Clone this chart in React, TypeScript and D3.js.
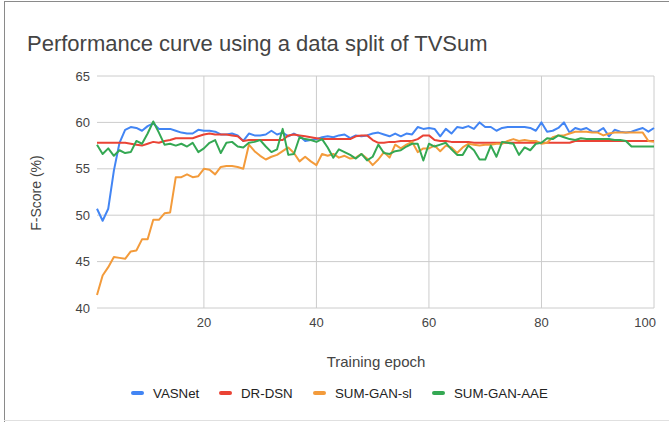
import React from "react";
import * as d3 from "d3";

const epochs: number[] = Array.from({ length: 100 }, (_, i) => i + 1);

const vasnet: number[] = [
  50.7, 49.4, 50.7, 54.8, 57.8, 59.2, 59.5, 59.4, 59.1, 59.6,
  59.9, 59.3, 59.3, 59.3, 59.1, 58.9, 58.8, 58.8, 59.2, 59.1,
  59.1, 59.0, 58.7, 58.7, 58.8, 58.6, 58.0, 58.8, 58.6, 58.6,
  58.7, 59.1, 58.7, 58.9, 58.5, 58.8, 58.5, 58.0, 58.1, 58.2,
  58.4, 58.5, 58.4, 58.6, 58.7, 58.3, 58.6, 58.5, 58.6, 58.8,
  58.9, 58.7, 58.5, 58.8, 58.5, 58.8, 58.7, 59.5, 59.3, 59.4,
  59.3, 58.5, 59.3, 58.8, 59.5, 59.4, 59.6, 59.3, 60.0, 59.5,
  59.5, 59.1, 59.4, 59.5, 59.5, 59.5, 59.5, 59.4, 59.1, 60.0,
  59.0, 59.1, 59.4, 60.0, 58.9, 59.4, 59.2, 59.4, 59.0, 59.0,
  59.4, 58.5, 59.2, 59.0, 58.9, 59.0, 59.2, 59.4, 59.0, 59.4,
];

const drdsn: number[] = [
  57.8, 57.8, 57.8, 57.8, 57.8, 57.8, 57.7, 57.6, 57.5, 57.7,
  57.9, 57.8, 58.0, 58.1, 58.3, 58.3, 58.3, 58.3, 58.5, 58.7,
  58.8, 58.7, 58.7, 58.7, 58.6, 58.5, 58.0, 58.1, 58.1, 58.1,
  58.1, 58.1, 58.1, 58.1, 58.6, 58.7, 58.6, 58.5, 58.4, 58.3,
  58.2, 58.2, 58.2, 58.2, 58.2, 58.2, 58.5, 58.6, 58.6, 58.1,
  57.8, 57.8, 57.9, 57.9, 58.0, 58.0, 58.0, 58.2, 58.6, 58.6,
  58.1, 58.0, 58.0, 57.9, 57.9, 57.9, 57.9, 57.8, 57.8, 57.8,
  57.8, 57.8, 57.8, 57.8, 57.8, 57.8, 57.8, 57.8, 57.8, 57.8,
  57.8, 57.8, 57.8, 57.8, 57.8, 58.0, 58.0, 58.0, 58.0, 58.0,
  58.0, 58.0, 58.0, 58.0, 58.0, 58.0, 58.0, 58.0, 58.0, 58.0,
];

const sumGanSl: number[] = [
  41.4, 43.5, 44.4, 45.5, 45.4, 45.3, 46.1, 46.2, 47.4, 47.4,
  49.5, 49.5, 50.2, 50.3, 54.1, 54.1, 54.4, 54.1, 54.2, 55.0,
  54.9, 54.4, 55.2, 55.3, 55.3, 55.2, 55.0, 57.6, 56.9, 56.4,
  56.0, 56.3, 56.5, 56.9, 57.3, 56.7, 55.8, 56.3, 55.8, 55.4,
  56.6, 56.4, 56.6, 56.2, 56.4, 56.1, 56.2, 56.6, 56.1, 55.4,
  56.0, 56.8, 56.2, 57.6, 57.2, 57.6, 57.9, 56.8, 57.2, 57.2,
  57.5, 56.9, 57.5, 57.3, 56.7, 57.3, 57.7, 57.6, 57.5, 57.6,
  57.6, 57.7, 57.7, 58.0, 58.2, 58.0, 58.1, 58.0, 58.0, 57.7,
  57.8, 58.4, 58.6, 58.6, 58.8, 59.0, 59.0, 59.0, 58.9, 58.9,
  58.6, 58.8, 58.9, 58.9, 58.9, 58.9, 58.9, 58.9, 58.0, 57.9,
];

const sumGanAae: number[] = [
  57.6, 56.6, 57.2, 56.4, 57.0, 56.7, 56.8, 58.0, 57.7, 58.8,
  60.1, 58.9, 57.6, 57.7, 57.5, 57.7, 57.4, 57.8, 56.8, 57.2,
  57.8, 58.1, 56.7, 57.8, 57.9, 57.4, 57.3, 57.8, 57.9, 58.1,
  57.4, 56.8, 57.1, 59.3, 56.5, 56.6, 58.4, 58.2, 58.1, 57.9,
  58.2, 57.3, 56.2, 57.1, 56.8, 56.5, 56.1, 56.6, 55.9, 56.3,
  57.6, 56.7, 56.6, 56.9, 57.0, 57.4, 57.7, 57.7, 55.9, 57.7,
  57.4, 57.6, 57.8, 57.1, 56.5, 56.5, 57.5, 57.0, 56.0, 56.0,
  57.5, 56.3, 57.9, 57.8, 57.7, 56.5, 57.3, 57.0, 57.7, 57.8,
  58.3, 58.2, 58.6, 58.4, 58.2, 58.1, 58.3, 58.2, 58.2, 58.2,
  58.2, 58.2, 58.1, 58.1, 58.0, 57.4, 57.4, 57.4, 57.4, 57.4,
];

const seriesNames: string[] = ["VASNet", "DR-DSN", "SUM-GAN-sl", "SUM-GAN-AAE"];
const seriesColors: string[] = ["#4285F4", "#EA4335", "#F39B3B", "#34A853"];
const seriesValues: number[][] = [vasnet, drdsn, sumGanSl, sumGanAae];

const xTicks: number[] = [20, 40, 60, 80, 100];
const yTicks: number[] = [40, 45, 50, 55, 60, 65];

const titleText = "Performance curve using a data split of TVSum";
const xTitle = "Training epoch";
const yTitle = "F-Score (%)";

const W = 669;
const H = 422;
const FONT = "Arial, 'Liberation Sans', sans-serif";

export default function App() {
  const x = d3.scaleLinear().domain([1, 100]).range([97, 654]);
  const y = d3.scaleLinear().domain([40, 65]).range([308, 76]);
  const line = d3
    .line<number>()
    .x((_, i) => x(epochs[i]))
    .y((d) => y(d));

  const legendX = [131, 219, 313, 432];

  return (
    <svg
      width={W}
      height={H}
      style={{ position: "absolute", left: 0, top: 0, background: "#fff" }}
      fontFamily={FONT}
    >
      <rect x={0} y={0} width={W} height={H} fill="#fff" />
      {/* frame */}
      <line x1={4} y1={1.5} x2={W} y2={1.5} stroke="#8a8a8a" strokeWidth={1} />
      <line x1={4.5} y1={1} x2={4.5} y2={H} stroke="#8a8a8a" strokeWidth={1} />
      <line x1={4} y1={420.5} x2={W} y2={420.5} stroke="#e0e0e0" strokeWidth={1} />

      <text x={27} y={51} fontSize={22} fill="#444">
        {titleText}
      </text>

      {/* grid */}
      {yTicks.map((t) => (
        <line key={"gy" + t} x1={97} x2={654} y1={y(t)} y2={y(t)} stroke="#cccccc" strokeWidth={1} />
      ))}
      {xTicks.map((t) => (
        <line key={"gx" + t} x1={x(t)} x2={x(t)} y1={76} y2={308} stroke="#cccccc" strokeWidth={1} />
      ))}

      {/* y tick labels */}
      {yTicks.map((t) => (
        <text key={"ly" + t} x={90} y={y(t) + 4.5} fontSize={13} fill="#444" textAnchor="end">
          {t}
        </text>
      ))}
      {/* x tick labels */}
      {xTicks.map((t, i) => {
        const last = i === xTicks.length - 1;
        return (
          <text
            key={"lx" + t}
            x={last ? x(t) + 2 : x(t)}
            y={327}
            fontSize={13}
            fill="#444"
            textAnchor={last ? "end" : "middle"}
          >
            {t}
          </text>
        );
      })}

      {/* axis titles */}
      <text x={376} y={367} fontSize={15} fill="#444" textAnchor="middle">
        {xTitle}
      </text>
      <text
        transform={`translate(41, 193) rotate(-90)`}
        fontSize={14}
        fill="#444"
        textAnchor="middle"
      >
        {yTitle}
      </text>

      {/* lines */}
      {seriesValues.map((vals, i) => (
        <path
          key={seriesNames[i]}
          d={line(vals) || ""}
          fill="none"
          stroke={seriesColors[i]}
          strokeWidth={2}
          strokeLinejoin="round"
        />
      ))}

      {/* legend */}
      {seriesNames.map((name, i) => (
        <g key={"lg" + name}>
          <rect x={legendX[i]} y={391} width={13} height={4} rx={2} fill={seriesColors[i]} />
          <text x={legendX[i] + 22} y={397.5} fontSize={13.3} fill="#222">
            {name}
          </text>
        </g>
      ))}
    </svg>
  );
}
